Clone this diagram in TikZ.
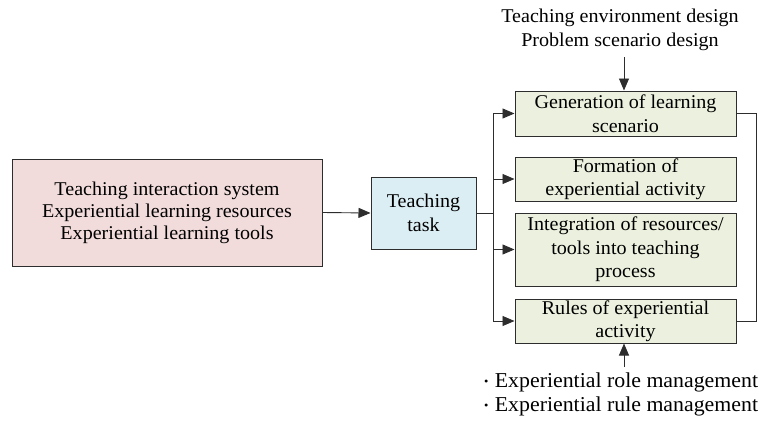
\documentclass[tikz,border=0pt]{standalone}
\usepackage{fontspec}
\setmainfont[FakeStretch=1.03]{Liberation Serif}
\usetikzlibrary{arrows.meta}
\definecolor{pinkfill}{RGB}{242,220,219}
\definecolor{bluefill}{RGB}{219,238,244}
\definecolor{greenfill}{RGB}{235,241,222}
\definecolor{edge}{RGB}{45,45,45}
\newcommand{\dotmark}{\raisebox{0.12em}{\fontsize{12}{12}\selectfont •}\hspace{0.3em}}
\tikzset{
  box/.style={draw=edge, line width=1pt, align=center, inner sep=0pt,
    font=\fontsize{19.5}{23.5}\selectfont},
  pinkbox/.style={box, fill=pinkfill, font=\fontsize{19.5}{22}\selectfont},
  bluebox/.style={box, fill=bluefill},
  greenbox/.style={box, fill=greenfill, minimum width=221pt},
  lbl/.style={align=center, inner sep=0pt, font=\fontsize{19.5}{24}\selectfont},
  wire/.style={draw=edge, line width=0.9pt},
  arr/.style={wire, -{Triangle[length=12pt,width=10pt]}}
}
\begin{document}
\begin{tikzpicture}[x=1pt,y=-1pt]
\useasboundingbox (0,0) rectangle (768,423);

\node[pinkbox, minimum width=310pt, minimum height=107pt] (res) at (167,212.5)
  {Teaching interaction system\\Experiential learning resources\\Experiential learning tools};
\node[bluebox, minimum width=105pt, minimum height=72pt] (task) at (423.5,213)
  {Teaching\\task};

\node[greenbox, minimum height=45pt] (g1) at (625.5,113.5)
  {Generation of learning\\scenario};
\node[greenbox, minimum height=44pt] (g2) at (625.5,179)
  {Formation of\\experiential activity};
\node[greenbox, minimum height=73pt] (g3) at (625.5,249.5)
  {Integration of resources/\\tools into teaching\\process};
\node[greenbox, minimum height=44pt] (g4) at (625.5,321)
  {Rules of experiential\\activity};

\node[lbl] (top) at (620,30) {Teaching environment design\\Problem scenario design};
\node[lbl, align=left, anchor=west, font=\fontsize{21.2}{24}\selectfont] (bot) at (484,394.5)
  {\dotmark Experiential role management\\\dotmark Experiential rule management};

% trunk and branches
\coordinate (split) at (493,213);
\coordinate (t1) at (493,113.5);
\coordinate (t4) at (493,321);
\draw[arr] (res.east) -- (task.west);
\draw[wire] (task.east) -- (split);
\draw[wire] (t1) -- (t4);
\draw[arr] (t1) -- (g1.west);
\draw[arr] (493,179) -- (g2.west);
\draw[arr] (493,249.5) -- (g3.west);
\draw[arr] (t4) -- (g4.west);

% feedback bracket on the right
\coordinate (r1) at (756,113.5);
\coordinate (r4) at (756,321);
\draw[wire] (g1.east) -- (r1) -- (r4) -- (g4.east);

% design inputs and management inputs
\coordinate (topin) at (624,57);
\coordinate (botin) at (624,367);
\draw[arr] (topin) -- (topin |- g1.north);
\draw[arr] (botin) -- (botin |- g4.south);
\end{tikzpicture}
\end{document}
